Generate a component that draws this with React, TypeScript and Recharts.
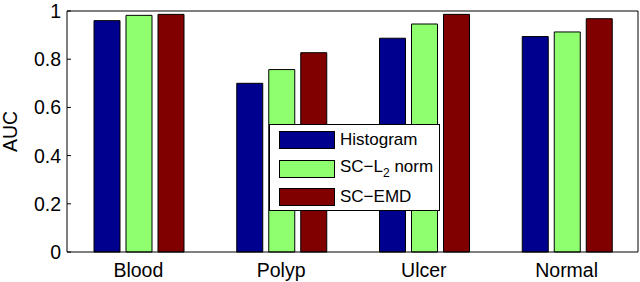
import { Bar, BarChart, Legend, XAxis, YAxis } from "recharts";

const categories = ["Blood", "Polyp", "Ulcer", "Normal"];
const histogram = [0.96, 0.7, 0.887, 0.894];
const scL2 = [0.982, 0.757, 0.946, 0.913];
const scEmd = [0.986, 0.827, 0.986, 0.968];
const yTicks = [0, 0.2, 0.4, 0.6, 0.8, 1];

const series = [
  { key: "histogram", name: "Histogram", color: "#00008f" },
  { key: "scL2", name: "SC-L2 norm", color: "#8fff70" },
  { key: "scEmd", name: "SC-EMD", color: "#800000" },
];

const data = categories.map((c, i) => ({
  name: c,
  histogram: histogram[i],
  scL2: scL2[i],
  scEmd: scEmd[i],
}));

const font = "'Liberation Sans', Arial, sans-serif";

function LegendBox() {
  return (
    <div
      style={{
        width: 171,
        height: 87,
        boxSizing: "border-box",
        border: "1px solid #000",
        background: "#fff",
        padding: "1px 0 0 9px",
        fontFamily: font,
        fontSize: 17,
        color: "#000",
      }}
    >
      {series.map((s) => (
        <div key={s.key} style={{ display: "flex", alignItems: "center", height: 28.5 }}>
          <div
            style={{
              width: 56,
              height: 18,
              boxSizing: "border-box",
              border: "1px solid #000",
              background: s.color,
              marginRight: 5,
            }}
          />
          {s.key === "scL2" ? (
            <span>
              SC−L<sub style={{ fontSize: 12, verticalAlign: -5 }}>2</sub> norm
            </span>
          ) : (
            <span>{s.name.replace("-", "−")}</span>
          )}
        </div>
      ))}
    </div>
  );
}

export default function App() {
  return (
    <div style={{ position: "absolute", left: 0, top: 0, background: "#fff" }}>
      <BarChart
        width={640}
        height={282}
        data={data}
        margin={{ top: 10, right: 1, left: 0, bottom: 0 }}
        barCategoryGap={27}
        barGap={6}
      >
        <XAxis
          dataKey="name"
          height={30}
          tickSize={0}
          tickMargin={11}
          tickLine={false}
          axisLine={{ stroke: "#000" }}
          tick={{ fill: "#000", fontSize: 19.5, fontFamily: font }}
        />
        <XAxis
          xAxisId="top"
          dataKey="name"
          orientation="top"
          height={1}
          tickSize={-4}
          tick={false}
          tickLine={{ stroke: "#000" }}
          axisLine={{ stroke: "#000" }}
        />
        <YAxis
          width={67}
          domain={[0, 1]}
          ticks={yTicks}
          tickSize={-4}
          tickMargin={10}
          tickLine={{ stroke: "#000" }}
          axisLine={{ stroke: "#000" }}
          tick={{ fill: "#000", fontSize: 19.5, fontFamily: font }}
          label={{
            content: () => (
              <text
                x={0}
                y={0}
                transform="translate(17,131.5) rotate(-90)"
                textAnchor="middle"
                fill="#000"
                fontSize={19.5}
                fontFamily={font}
              >
                AUC
              </text>
            ),
          }}
        />
        <YAxis
          yAxisId="right"
          orientation="right"
          width={1}
          domain={[0, 1]}
          ticks={yTicks}
          tickSize={-4}
          tick={false}
          tickLine={{ stroke: "#000" }}
          axisLine={{ stroke: "#000" }}
        />
        <Legend
          layout="vertical"
          align="center"
          verticalAlign="middle"
          content={() => <LegendBox />}
          wrapperStyle={{ left: 269, top: 124, width: 171, height: 87 }}
        />
        {series.map((s) => (
          <Bar
            key={s.key}
            dataKey={s.key}
            name={s.name}
            fill={s.color}
            stroke="#000"
            strokeWidth={1}
            isAnimationActive={false}
          />
        ))}
      </BarChart>
    </div>
  );
}
